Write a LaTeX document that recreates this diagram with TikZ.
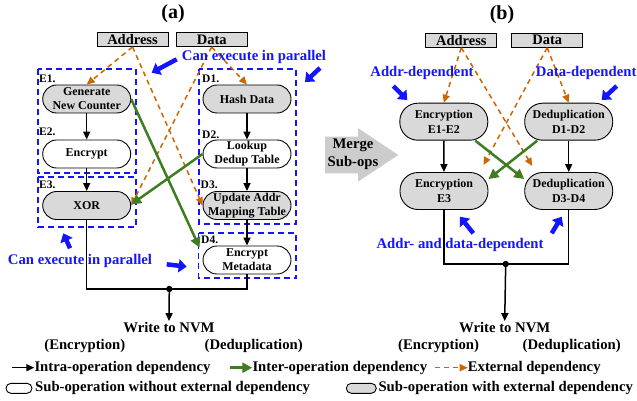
\documentclass[tikz,border=0pt]{standalone}
\usepackage{fontspec}
\setmainfont{Liberation Serif}
\usepackage{tikz}
\usetikzlibrary{arrows.meta}
\definecolor{extorange}{RGB}{204,102,0}
\definecolor{intergreen}{RGB}{62,125,32}
\definecolor{opgray}{RGB}{217,217,217}
\definecolor{noteblue}{RGB}{20,20,255}
\tikzstyle{subop} = [rectangle, rounded corners=14pt, minimum width=88pt, minimum height=28pt, inner sep=0pt, text centered, align=center, draw=black, line width=0.9pt, fill=white, font=\fontsize{12}{14}\selectfont\bfseries]
\tikzstyle{subop_ext} = [subop, fill=opgray]
\tikzstyle{merged} = [subop_ext, rounded corners=18pt, minimum width=88pt, minimum height=37pt, font=\fontsize{12}{14.5}\selectfont\bfseries]
\tikzstyle{input} = [rectangle, minimum width=71pt, minimum height=14pt, inner sep=0pt, draw=black, line width=0.9pt, fill=opgray, font=\fontsize{14.5}{16}\selectfont\bfseries]
\tikzstyle{steplabel} = [anchor=west, inner sep=0pt, font=\fontsize{11.5}{12}\selectfont\bfseries]
\tikzstyle{caption} = [inner sep=1pt, font=\fontsize{14.7}{16}\selectfont\bfseries]
\tikzstyle{note} = [caption, text=noteblue]
\tikzstyle{group} = [draw=noteblue, line width=1.6pt, dash pattern=on 6pt off 4pt]
\tikzstyle{pointer} = [draw=noteblue, line width=4.5pt, -{Triangle[length=8pt,width=13pt]}]
\tikzstyle{arrow} = [line width=1.5pt, -{Triangle[length=8pt,width=7pt]}]
\tikzstyle{wire} = [line width=1.5pt]
\tikzstyle{inter} = [draw=intergreen, line width=2.5pt, -{Triangle[length=10pt,width=10pt]}]
\tikzstyle{external} = [draw=extorange, line width=1.5pt, dash pattern=on 5pt off 4pt, -{Triangle[length=8pt,width=7pt]}]

\begin{document}
\begin{tikzpicture}[x=1pt, y=-1pt]
	\useasboundingbox (0,0) rectangle (637,401);

	% (a) separate operations
	\node(title_a) [font=\fontsize{20}{22}\selectfont\bfseries] at (173,14) {(a)};
	\node(address_a) [input] at (132.5,39.5) {Address};
	\node(data_a) [input] at (211.7,39.5) {Data};

	\draw[group] (38,69) rectangle (136,173);
	\draw[group] (38,177) rectangle (136,227);
	\draw[group] (199,69) rectangle (296,224);
	\draw[group] (198.5,233) rectangle (296,278);

	\node(gen_counter) [subop_ext] at (86.7,99) {Generate\\New Counter};
	\node(encrypt) [subop] at (86.7,154) {Encrypt};
	\node(xor) [subop_ext] at (86.7,205.5) {XOR};
	\node(hash_data) [subop_ext] at (247,99) {Hash Data};
	\node(lookup_table) [subop] at (247,154) {Lookup\\Dedup Table};
	\node(update_mapping) [subop_ext] at (247,205.5) {Update Addr\\Mapping Table};
	\node(encrypt_metadata) [subop] at (247,260) {Encrypt\\Metadata};

	\node(e1_label) [steplabel] at (39,79) {E1.};
	\node(e2_label) [steplabel] at (39,132) {E2.};
	\node(e3_label) [steplabel] at (39,185) {E3.};
	\node(d1_label) [steplabel] at (202,79) {D1.};
	\node(d2_label) [steplabel] at (202,135) {D2.};
	\node(d3_label) [steplabel] at (200.5,185) {D3.};
	\node(d4_label) [steplabel] at (201,240) {D4.};

	\draw[arrow] (gen_counter) -- (encrypt);
	\draw[arrow] (encrypt) -- (xor);
	\draw[arrow] (hash_data) -- (lookup_table);
	\draw[arrow] (lookup_table) -- (update_mapping);
	\draw[arrow] (update_mapping) -- (encrypt_metadata);

	\draw[external] (address_a.south) -- (gen_counter.north);
	\draw[external] (address_a.south) -- (update_mapping.west);
	\draw[external] (data_a.south) -- (hash_data.north);
	\draw[external] (data_a.south) -- (xor.east);

	\draw[inter] (gen_counter.east) -- ([xshift=-3pt,yshift=-2pt]encrypt_metadata.north west);
	\draw[inter] (lookup_table.west) -- ([yshift=1pt]xor.east);

	\coordinate(join_a) at (169.3,289);
	\node(write_a) [caption] at (169,327.5) {Write to NVM};
	\draw[wire] (xor.south) |- (join_a);
	\draw[wire] (encrypt_metadata.south) |- (join_a);
	\fill (join_a) circle (3.2pt);
	\draw[arrow] (join_a) -- (write_a.north);
	\node(enc_a) [caption] at (84.8,346) {(Encryption)};
	\node(dedup_a) [caption] at (253.7,346) {(Deduplication)};

	\node(parallel_top) [note] at (254,56.7) {Can execute in parallel};
	\node(parallel_bottom) [note] at (80,260.7) {Can execute in parallel};
	\draw[pointer] (176.7,59.3) -- (151.7,72.7);
	\draw[pointer] (320,68) -- (305,82);
	\draw[pointer] (70,248.3) -- (63.3,233.3);
	\draw[pointer] (166.7,264.3) -- (186.7,266.7);

	% merge arrow
	\fill[gray!40] (325,136.7) -- (358,136.7) -- (358,128) -- (398.3,155) -- (358,181.7) -- (358,173.3) -- (325,173.3) -- cycle;
	\node(merge_label) [caption, align=center, font=\fontsize{14.7}{18}\selectfont\bfseries] at (353,154) {Merge\\Sub-ops};

	% (b) merged operations
	\node(title_b) [font=\fontsize{20}{22}\selectfont\bfseries] at (502,15) {(b)};
	\node(address_b) [input] at (461.3,40.3) {Address};
	\node(data_b) [input] at (547.2,40.3) {Data};

	\node(enc_e12) [merged] at (443.8,121.7) {Encryption\\E1-E2};
	\node(dedup_d12) [merged] at (568.7,121.7) {Deduplication\\D1-D2};
	\node(enc_e3) [merged] at (444,191) {Encryption\\E3};
	\node(dedup_d34) [merged] at (568.7,191) {Deduplication\\D3-D4};

	\draw[arrow] (enc_e12) -- (enc_e3);
	\draw[arrow] (dedup_d12) -- (dedup_d34);

	\draw[external] (address_b.south) -- (enc_e12.north);
	\draw[external] (address_b.south) -- ([xshift=8pt,yshift=6pt]dedup_d34.north west);
	\draw[external] (data_b.south) -- (dedup_d12.north);
	\draw[external] (data_b.south) -- ([xshift=-5pt,yshift=7pt]enc_e3.north east);

	\draw[inter] ([xshift=-13pt]enc_e12.south east) -- (dedup_d34.165);
	\draw[inter] ([xshift=13pt]dedup_d12.south west) -- (enc_e3.15);

	\coordinate(join_b) at (505.7,264);
	\node(write_b) [caption] at (504.7,327.5) {Write to NVM};
	\draw[wire] (enc_e3.south) |- (join_b);
	\draw[wire] (dedup_d34.south) |- (join_b);
	\fill (join_b) circle (3.2pt);
	\draw[arrow] (join_b) -- (write_b.north);
	\node(enc_b) [caption] at (438.6,346) {(Encryption)};
	\node(dedup_b) [caption] at (571.7,346) {(Deduplication)};

	\node(addr_dep) [note] at (422,72.7) {Addr-dependent};
	\node(data_dep) [note] at (586.2,72.7) {Data-dependent};
	\node(both_dep) [note] at (460,245) {Addr- and data-dependent};
	\draw[pointer] (393.3,86) -- (407.3,100);
	\draw[pointer] (616.7,86) -- (601.7,100);
	\draw[pointer] (473.3,233.3) -- (460,216.7);
	\draw[pointer] (551.7,233.3) -- (561.7,216.7);

	% legend
	\coordinate(leg_intra_start) at (11.7,367.7);
	\coordinate(leg_inter_start) at (230,367.7);
	\coordinate(leg_ext_start) at (435,367.7);
	\node(leg_intra) [caption, anchor=west, inner sep=0pt] at (34.3,367.7) {Intra-operation dependency};
	\node(leg_inter) [caption, anchor=west, inner sep=0pt] at (252.3,367.7) {Inter-operation dependency};
	\node(leg_ext) [caption, anchor=west, inner sep=0pt] at (467.7,367.7) {External dependency};
	\draw[arrow] (leg_intra_start) -- (leg_intra.west);
	\draw[inter] (leg_inter_start) -- (leg_inter.west);
	\draw[external] (leg_ext_start) -- (leg_ext.west);

	\node(leg_plain_box) [subop, minimum width=26pt, minimum height=10pt, rounded corners=5pt] at (19,388.3) {};
	\node(leg_plain) [caption, anchor=west, inner sep=0pt] at (35,388.3) {Sub-operation without external dependency};
	\node(leg_ext_box) [subop_ext, minimum width=30pt, minimum height=10pt, rounded corners=5pt] at (361.3,388.3) {};
	\node(leg_extop) [caption, anchor=west, inner sep=0pt] at (378.3,388.3) {Sub-operation with external dependency};
\end{tikzpicture}
\end{document}
